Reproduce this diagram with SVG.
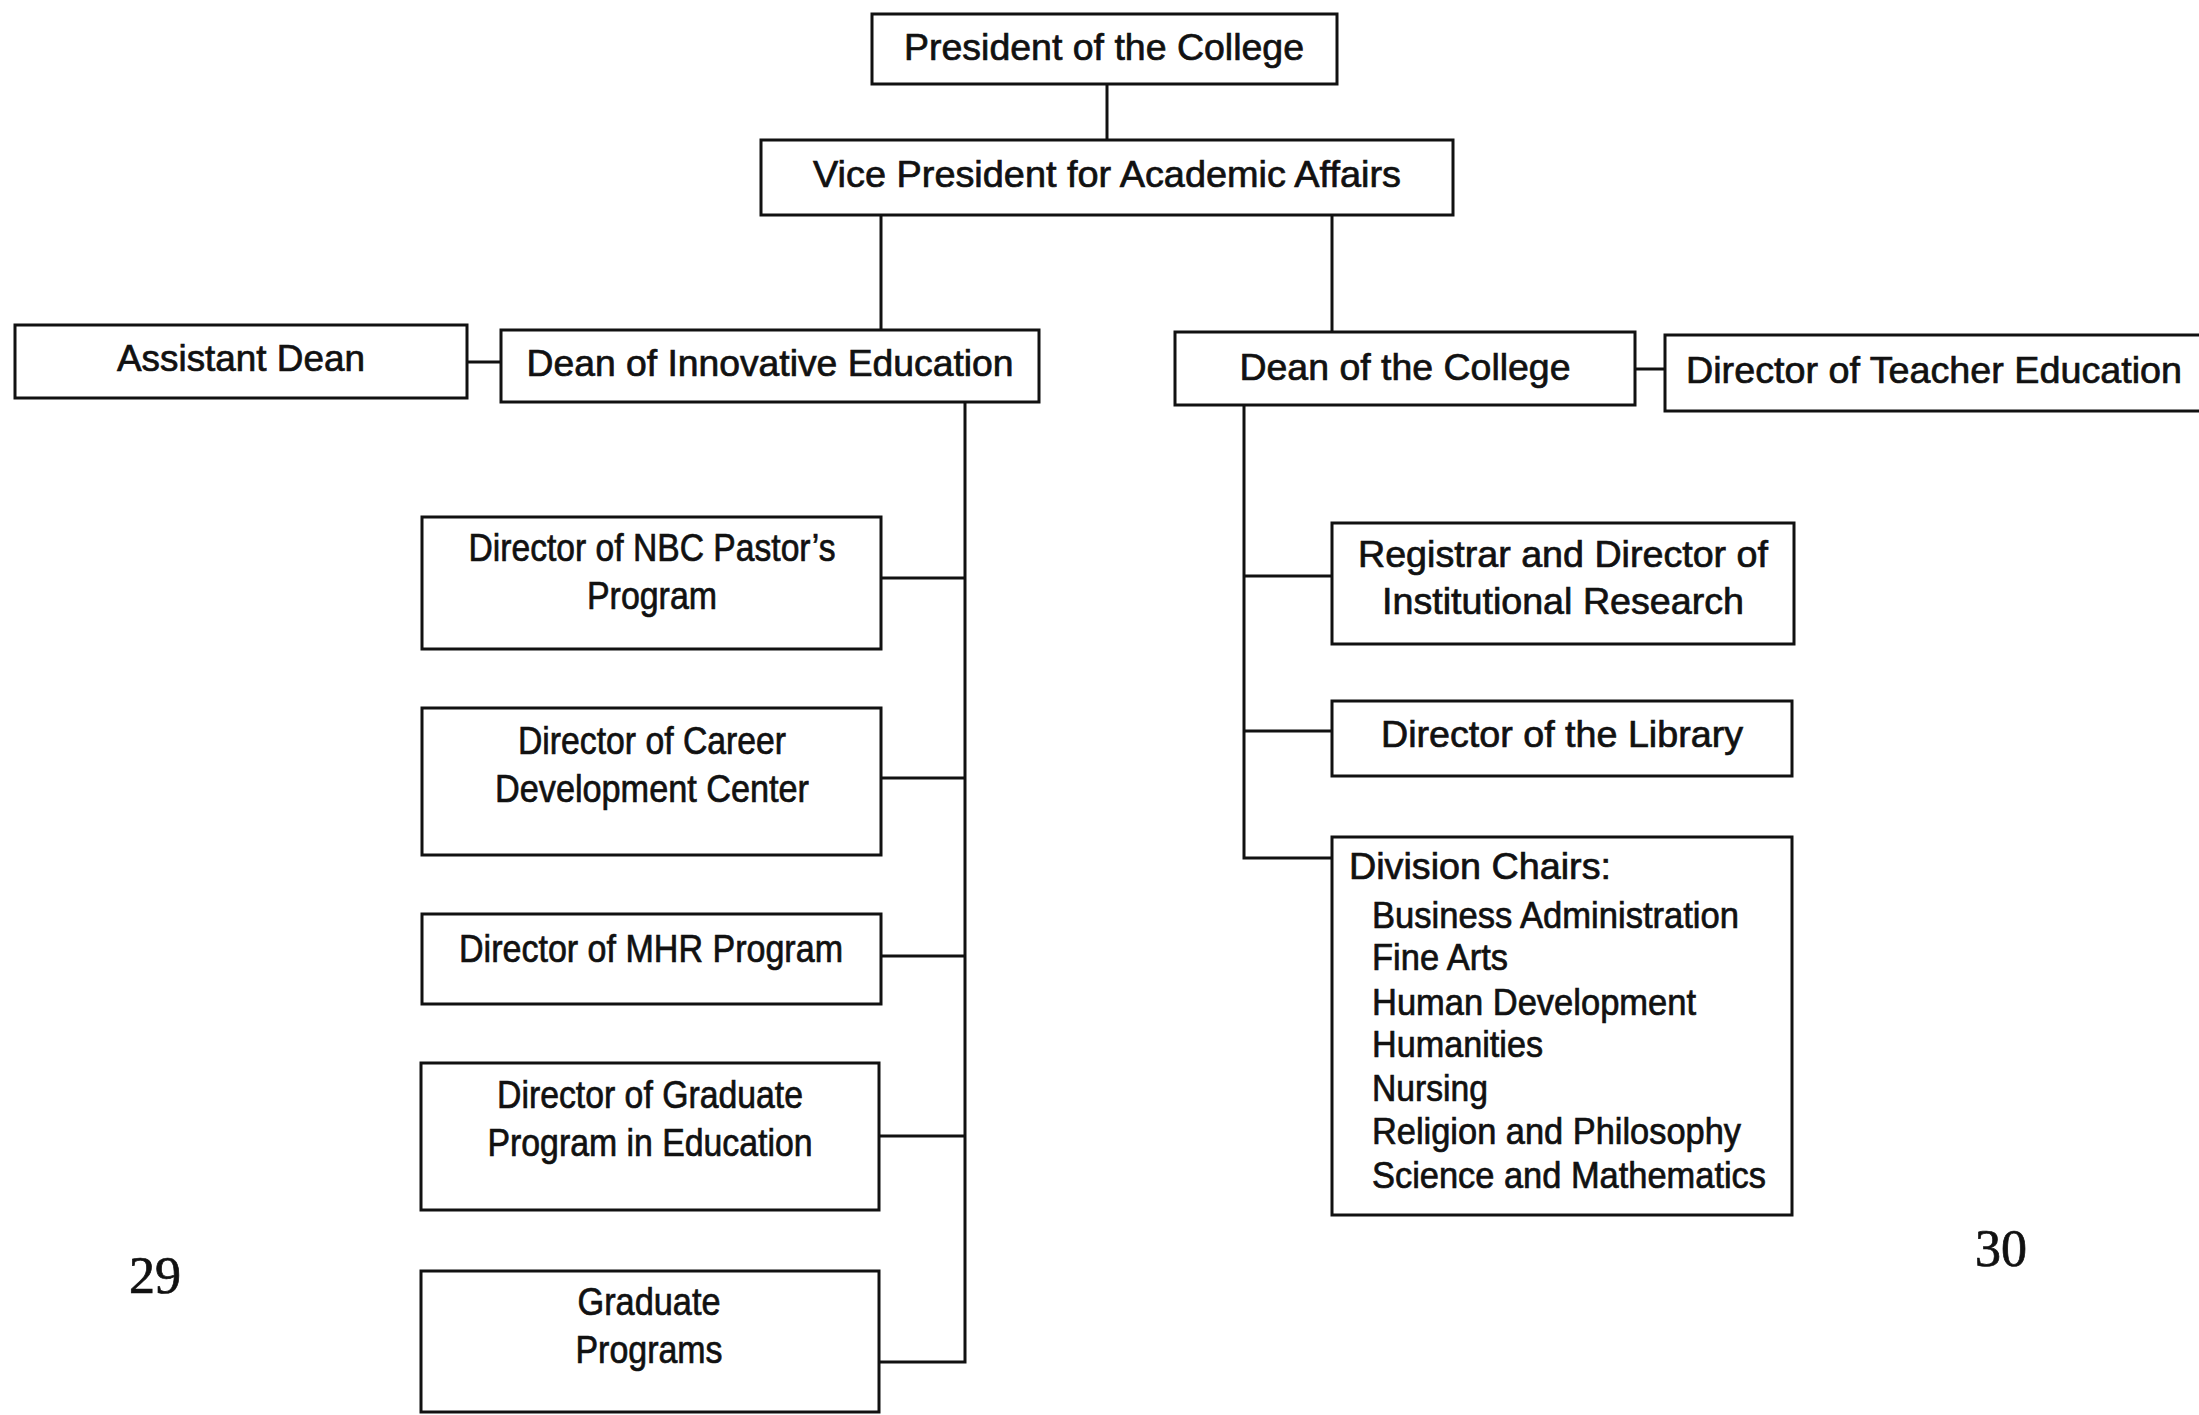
<svg xmlns="http://www.w3.org/2000/svg" width="2199" height="1415" viewBox="0 0 2199 1415">
<style>
  .box { fill: #fff; stroke: #111; stroke-width: 3; }
  .ln { fill: none; stroke: #111; stroke-width: 3; }
  text { font-family: "Liberation Sans", Arial, Helvetica, sans-serif; fill: #111; stroke: #111; stroke-width: 0.7; }
  .t { font-size: 37px; text-anchor: middle; }
  .s { font-size: 38px; text-anchor: middle; }
  .l { font-size: 36px; }
  .h { font-size: 37px; }
  .pg { font-family: "Liberation Serif", "Times New Roman", serif; font-size: 52px; }
</style>
<rect width="2199" height="1415" fill="#fff"/>
<g id="connectors">
  <path class="ln" d="M1107,84 V140"/>
  <path class="ln" d="M881,215 V330"/>
  <path class="ln" d="M1332,215 V332"/>
  <path class="ln" d="M467,362 H501"/>
  <path class="ln" d="M1635,369 H1665"/>
  <path class="ln" d="M965,402 V1362 H879"/>
  <path class="ln" d="M881,578 H965"/>
  <path class="ln" d="M881,778 H965"/>
  <path class="ln" d="M881,956 H965"/>
  <path class="ln" d="M879,1136 H965"/>
  <path class="ln" d="M1244,405 V858 H1332"/>
  <path class="ln" d="M1244,576 H1332"/>
  <path class="ln" d="M1244,731 H1332"/>
</g>
<g id="president">
  <rect class="box" x="872" y="14" width="465" height="70"/>
  <text class="t" x="1104" y="60" textLength="400" lengthAdjust="spacingAndGlyphs">President of the College</text>
</g>
<g id="vp">
  <rect class="box" x="761" y="140" width="692" height="75"/>
  <text class="t" x="1107" y="187" textLength="588" lengthAdjust="spacingAndGlyphs">Vice President for Academic Affairs</text>
</g>
<g id="assistant-dean">
  <rect class="box" x="15" y="325" width="452" height="73"/>
  <text class="t" x="241" y="371" textLength="248" lengthAdjust="spacingAndGlyphs">Assistant Dean</text>
</g>
<g id="dean-innovative">
  <rect class="box" x="501" y="330" width="538" height="72"/>
  <text class="t" x="770" y="376" textLength="487" lengthAdjust="spacingAndGlyphs">Dean of Innovative Education</text>
</g>
<g id="dean-college">
  <rect class="box" x="1175" y="332" width="460" height="73"/>
  <text class="t" x="1405" y="380" textLength="331" lengthAdjust="spacingAndGlyphs">Dean of the College</text>
</g>
<g id="teacher-education">
  <rect class="box" x="1665" y="335" width="560" height="76"/>
  <text class="h" x="1686" y="383" textLength="496" lengthAdjust="spacingAndGlyphs">Director of Teacher Education</text>
</g>
<g id="nbc">
  <rect class="box" x="422" y="517" width="459" height="132"/>
  <text class="s" x="652" y="561" textLength="367" lengthAdjust="spacingAndGlyphs">Director of NBC Pastor’s</text>
  <text class="s" x="652" y="609" textLength="130" lengthAdjust="spacingAndGlyphs">Program</text>
</g>
<g id="career">
  <rect class="box" x="422" y="708" width="459" height="147"/>
  <text class="s" x="652" y="754" textLength="268" lengthAdjust="spacingAndGlyphs">Director of Career</text>
  <text class="s" x="652" y="802" textLength="314" lengthAdjust="spacingAndGlyphs">Development Center</text>
</g>
<g id="mhr">
  <rect class="box" x="422" y="914" width="459" height="90"/>
  <text class="s" x="651" y="962" textLength="384" lengthAdjust="spacingAndGlyphs">Director of MHR Program</text>
</g>
<g id="grad-education">
  <rect class="box" x="421" y="1063" width="458" height="147"/>
  <text class="s" x="650" y="1108" textLength="306" lengthAdjust="spacingAndGlyphs">Director of Graduate</text>
  <text class="s" x="650" y="1156" textLength="325" lengthAdjust="spacingAndGlyphs">Program in Education</text>
</g>
<g id="grad-programs">
  <rect class="box" x="421" y="1271" width="458" height="141"/>
  <text class="s" x="649" y="1315" textLength="143" lengthAdjust="spacingAndGlyphs">Graduate</text>
  <text class="s" x="649" y="1363" textLength="147" lengthAdjust="spacingAndGlyphs">Programs</text>
</g>
<g id="registrar">
  <rect class="box" x="1332" y="523" width="462" height="121"/>
  <text class="t" x="1563" y="567" textLength="410" lengthAdjust="spacingAndGlyphs">Registrar and Director of</text>
  <text class="t" x="1563" y="614" textLength="362" lengthAdjust="spacingAndGlyphs">Institutional Research</text>
</g>
<g id="library">
  <rect class="box" x="1332" y="701" width="460" height="75"/>
  <text class="t" x="1562" y="747" textLength="362" lengthAdjust="spacingAndGlyphs">Director of the Library</text>
</g>
<g id="division-chairs">
  <rect class="box" x="1332" y="837" width="460" height="378"/>
  <text class="h" x="1349" y="879" textLength="262" lengthAdjust="spacingAndGlyphs">Division Chairs:</text>
  <text class="l" x="1372" y="928" textLength="367" lengthAdjust="spacingAndGlyphs">Business Administration</text>
  <text class="l" x="1372" y="970" textLength="136" lengthAdjust="spacingAndGlyphs">Fine Arts</text>
  <text class="l" x="1372" y="1015" textLength="324" lengthAdjust="spacingAndGlyphs">Human Development</text>
  <text class="l" x="1372" y="1057" textLength="171" lengthAdjust="spacingAndGlyphs">Humanities</text>
  <text class="l" x="1372" y="1101" textLength="116" lengthAdjust="spacingAndGlyphs">Nursing</text>
  <text class="l" x="1372" y="1144" textLength="369" lengthAdjust="spacingAndGlyphs">Religion and Philosophy</text>
  <text class="l" x="1372" y="1188" textLength="394" lengthAdjust="spacingAndGlyphs">Science and Mathematics</text>
</g>
<text class="pg" x="129" y="1293">29</text>
<text class="pg" x="1975" y="1266">30</text>
</svg>
